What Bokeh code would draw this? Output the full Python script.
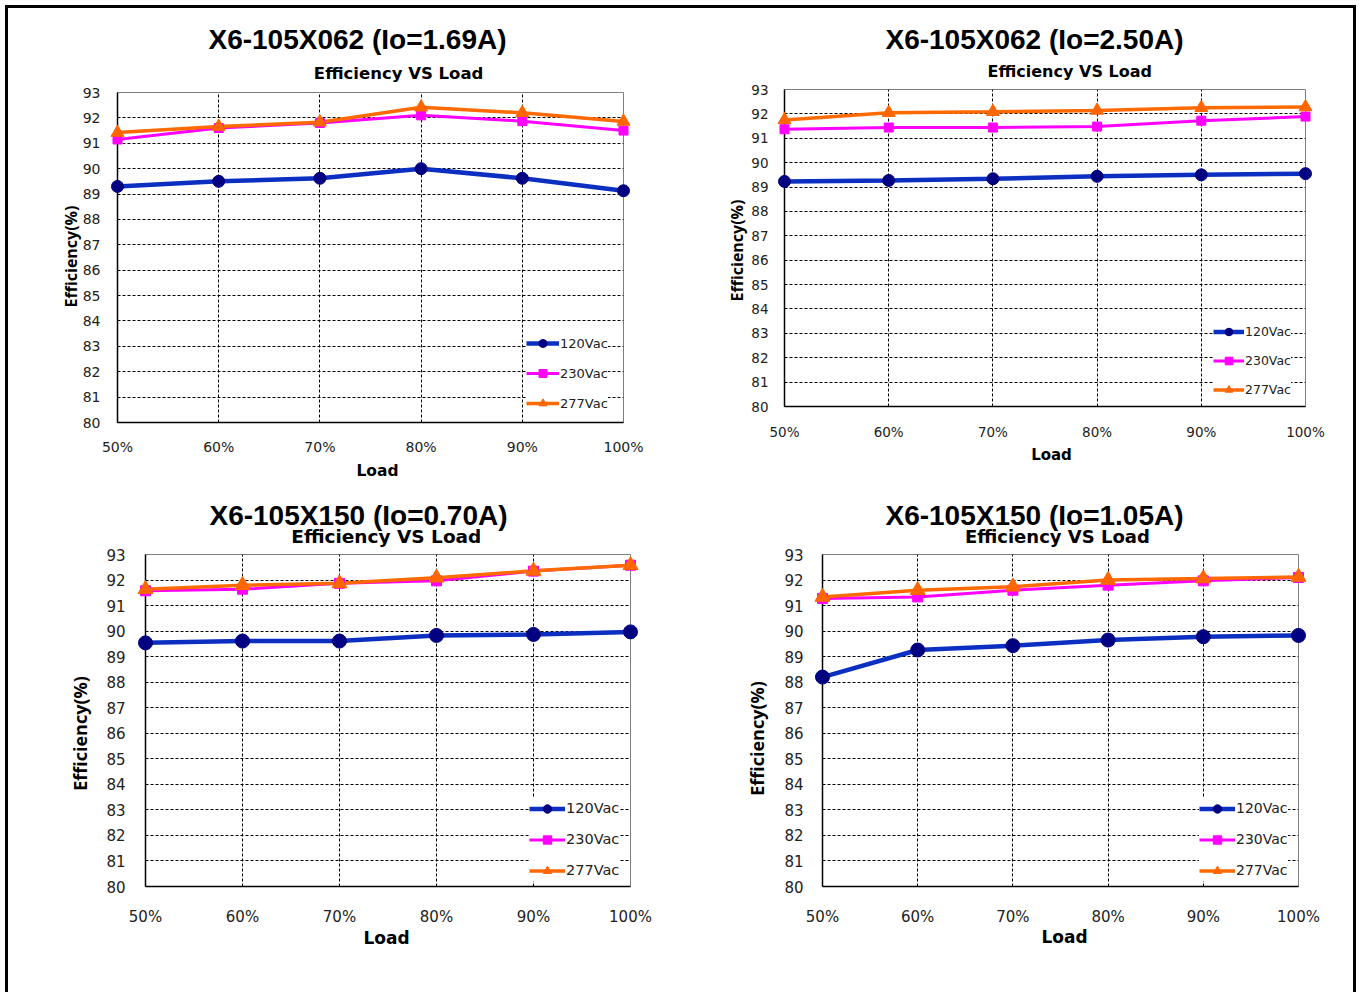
import math
from bokeh.plotting import figure
from bokeh.models import Range1d, FixedTicker, Label, Legend, LegendItem
from bokeh.layouts import column, row
from bokeh.embed import file_html
from bokeh.resources import INLINE

# ---------------- data ----------------
loads = [50, 60, 70, 80, 90, 100]
load_labels = ["50%", "60%", "70%", "80%", "90%", "100%"]
y_ticks = list(range(80, 94))
series_names = ["120Vac", "230Vac", "277Vac"]

titles = ["X6-105X062 (Io=1.69A)", "X6-105X062 (Io=2.50A)",
          "X6-105X150 (Io=0.70A)", "X6-105X150 (Io=1.05A)"]
subtitle = "Efficiency VS  Load"
x_label = "Load"
y_label = "Efficiency(%)"

c1_120 = [89.30, 89.50, 89.62, 90.00, 89.62, 89.13]
c1_230 = [91.15, 91.60, 91.80, 92.10, 91.87, 91.50]
c1_277 = [91.42, 91.66, 91.83, 92.42, 92.20, 91.86]

c2_120 = [89.23, 89.27, 89.34, 89.44, 89.50, 89.55]
c2_230 = [91.37, 91.44, 91.44, 91.48, 91.72, 91.89]
c2_277 = [91.75, 92.05, 92.09, 92.14, 92.25, 92.28]

c3_120 = [89.54, 89.61, 89.61, 89.83, 89.87, 89.97]
c3_230 = [91.58, 91.64, 91.87, 91.97, 92.35, 92.58]
c3_277 = [91.64, 91.80, 91.87, 92.09, 92.36, 92.58]

c4_120 = [88.20, 89.26, 89.43, 89.65, 89.78, 89.83]
c4_230 = [91.28, 91.34, 91.60, 91.80, 91.97, 92.10]
c4_277 = [91.34, 91.60, 91.74, 92.00, 92.06, 92.12]

chart_values = [
    [c1_120, c1_230, c1_277],
    [c2_120, c2_230, c2_277],
    [c3_120, c3_230, c3_277],
    [c4_120, c4_230, c4_277],
]

# ---------------- styles ----------------
line_colors = ["#0b2fc1", "#ff00ff", "#ff6a00"]
marker_colors = ["#000080", "#ff00ff", "#ff6600"]
markers = ["circle", "square", "triangle"]
line_widths = [4.5, 3, 3.5]

# page-pixel layout of each chart (origin, size, frame box, text positions, fonts)
cfgs = [
    dict(origin=(8, 8), size=(675, 482), frame=(117, 623, 92, 422),
         title=(357, 39), sub=(401, 73), ylab=(70, 256), xlab=(377, 470),
         f_title="28px", f_sub="16.5px", f_tick="14px", f_ylab="16px", f_xlab="15.5px",
         f_leg="13px", tick_y_stand=17, tick_x_stand=16,
         leg=dict(x=527, row1=343, gw=33, gh=20, sp=10),
         msize=[12, 9, 13]),
    dict(origin=(683, 8), size=(670, 482), frame=(784, 1305, 89, 406),
         title=(1034, 39), sub=(1072, 71), ylab=(736, 250), xlab=(1051, 454),
         f_title="28px", f_sub="16px", f_tick="13.5px", f_ylab="16px", f_xlab="15px",
         f_leg="12.5px", tick_y_stand=16, tick_x_stand=17,
         leg=dict(x=1214, row1=331, gw=31, gh=19, sp=10),
         msize=[12, 9, 13]),
    dict(origin=(8, 490), size=(675, 502), frame=(145, 630, 554, 886),
         title=(358, 515), sub=(389, 536), ylab=(79, 733), xlab=(386, 937),
         f_title="28px", f_sub="18.5px", f_tick="15px", f_ylab="18px", f_xlab="17px",
         f_leg="14.5px", tick_y_stand=20, tick_x_stand=21,
         leg=dict(x=530, row1=808, gw=36, gh=21, sp=10),
         msize=[14, 10, 15]),
    dict(origin=(683, 490), size=(670, 502), frame=(822, 1298, 554, 886),
         title=(1034, 515), sub=(1060, 536), ylab=(756, 738), xlab=(1064, 936),
         f_title="28px", f_sub="18px", f_tick="15px", f_ylab="18px", f_xlab="17px",
         f_leg="14px", tick_y_stand=19, tick_x_stand=21,
         leg=dict(x=1200, row1=808, gw=36, gh=21, sp=10),
         msize=[14, 10, 15]),
]


def make_chart(i):
    cfg = cfgs[i]
    ox, oy = cfg["origin"]
    w, h = cfg["size"]
    fx0, fx1, fy0, fy1 = cfg["frame"]

    p = figure(width=w, height=h, output_backend="svg", toolbar_location=None,
               x_range=Range1d(50, 100), y_range=Range1d(80, 93),
               min_border_left=fx0 - ox, min_border_right=ox + w - fx1,
               min_border_top=fy0 - oy, min_border_bottom=oy + h - fy1)
    p.background_fill_color = "white"
    p.border_fill_color = "white"
    p.outline_line_color = "#7f7f7f"
    p.outline_line_width = 1

    # axes
    p.xaxis.ticker = FixedTicker(ticks=loads)
    p.xaxis.major_label_overrides = {t: l for t, l in zip(loads, load_labels)}
    p.yaxis.ticker = FixedTicker(ticks=y_ticks)
    for ax in (p.xaxis[0], p.yaxis[0]):
        ax.major_tick_line_color = None
        ax.minor_tick_line_color = None
        ax.major_tick_out = 0
        ax.major_tick_in = 0
        ax.axis_line_color = "black"
        ax.axis_line_width = 1.5
        ax.major_label_text_font = "DejaVu Sans"
        ax.major_label_text_font_size = cfg["f_tick"]
        ax.major_label_text_color = "#222222"
    p.yaxis.major_label_standoff = cfg["tick_y_stand"]
    p.xaxis.major_label_standoff = cfg["tick_x_stand"]

    # grid
    p.xgrid.ticker = FixedTicker(ticks=loads[1:-1])
    p.ygrid.ticker = FixedTicker(ticks=y_ticks[1:-1])
    for g in (p.xgrid[0], p.ygrid[0]):
        g.grid_line_color = "black"
        g.grid_line_dash = "3 2"
        g.grid_line_width = 1

    # series
    items = []
    for k, name in enumerate(series_names):
        vals = chart_values[i][k]
        lr = p.line(loads, vals, line_color=line_colors[k], line_width=line_widths[k])
        sr = p.scatter(loads, vals, marker=markers[k], size=cfg["msize"][k],
                       fill_color=marker_colors[k], line_color=marker_colors[k],
                       level="overlay")
        items.append(LegendItem(label=name, renderers=[lr, sr]))

    lg = cfg["leg"]
    pad = 5
    gh, sp = lg["gh"], lg["sp"]
    leg_top = lg["row1"] - gh / 2 - pad
    leg_bottom = leg_top + pad * 2 + 3 * gh + 2 * sp
    legend = Legend(items=items,
                    location=(lg["x"] - pad - fx0 + 4, fy1 - leg_bottom + 5),
                    orientation="vertical", glyph_width=lg["gw"], glyph_height=gh,
                    label_height=gh, spacing=sp, padding=pad, margin=0,
                    label_standoff=1, background_fill_color="white",
                    background_fill_alpha=1.0, border_line_color=None,
                    label_text_font="DejaVu Sans", label_text_font_size=cfg["f_leg"],
                    label_text_color="#222222")
    p.add_layout(legend, "center")

    # texts: labels in the side panels, placed in canvas pixels of this figure
    def lab(pos, text, font, size, side, angle=0.0):
        px, py = pos
        p.add_layout(Label(x=px - ox, y=py - oy, x_units="canvas", y_units="canvas",
                           text=text, angle=angle, text_align="center",
                           text_baseline="middle", text_font=font,
                           text_font_style="bold", text_font_size=size,
                           text_color="black"), side)

    lab(cfg["sub"], subtitle, "DejaVu Sans", cfg["f_sub"], "above")
    lab(cfg["title"], titles[i], "Liberation Sans", cfg["f_title"], "above")
    lab(cfg["ylab"], y_label, "Open Sans", cfg["f_ylab"], "left", angle=math.pi / 2)
    lab(cfg["xlab"], x_label, "DejaVu Sans", cfg["f_xlab"], "below")
    return p


plots = [make_chart(i) for i in range(4)]
layout = column(row(column(plots[0]), column(plots[1])),
                row(column(plots[2]), column(plots[3])),
                styles={"margin-left": "5px", "margin-top": "5px",
                        "border-top": "3px solid black",
                        "border-left": "3px solid black",
                        "border-right": "3px solid black"})

open("out.html", "w").write(file_html(layout, INLINE))
